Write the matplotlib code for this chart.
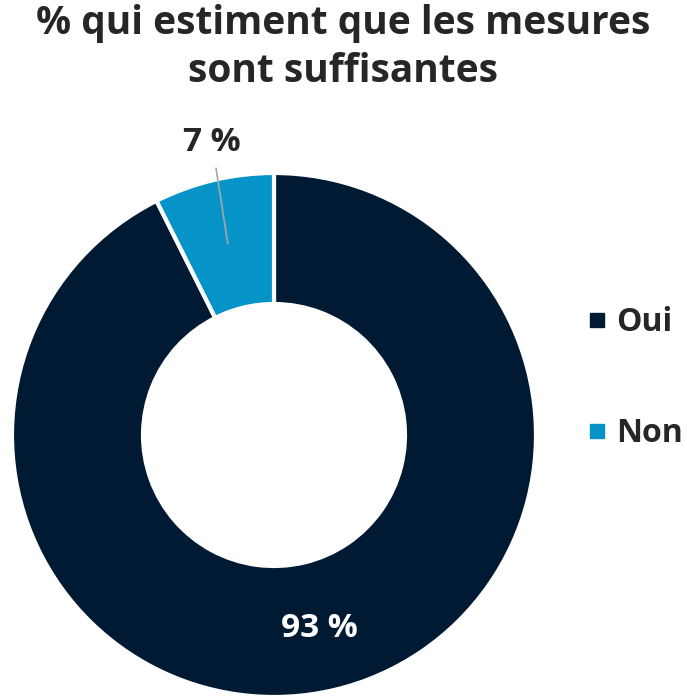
import matplotlib
matplotlib.use("Agg")
import matplotlib.pyplot as plt
from matplotlib.lines import Line2D

plt.rcParams["font.family"] = ["Open Sans", "DejaVu Sans"]

labels = ["Oui", "Non"]
values = [92.6, 7.4]
colors = ["#011A33", "#0593C8"]
title = "% qui estiment que les mesures\nsont suffisantes"
TXT = "#262626"

fig = plt.figure(figsize=(6.87, 6.96), dpi=100, facecolor="white")
W, H = 687, 696
cx, cy, r = 274, 435, 262
ax = fig.add_axes([(cx - r) / W, (H - cy - r) / H, 2 * r / W, 2 * r / H])
wedges, _ = ax.pie(values, colors=colors, startangle=90, counterclock=False,
                   radius=1, wedgeprops=dict(width=0.5, edgecolor="white", linewidth=3))
ax.set_xlim(-1, 1)
ax.set_ylim(-1, 1)
ax.set_aspect("equal")
ax.axis("off")

# value labels
ax.text(0.172, -0.737, f"{values[0]:.0f} %", color="white", fontsize=24,
        fontweight="bold", ha="center", va="center")
ax.annotate(f"{values[1]:.0f} %", xy=(-0.176, 0.729), xytext=(-0.237, 1.118),
            fontsize=24, fontweight="bold", color=TXT, ha="center", va="center",
            arrowprops=dict(arrowstyle="-", color="#A6A6A6", lw=1.2,
                            shrinkA=5, shrinkB=0))

fig.text(0.5, 0.994, title, ha="center", va="top", fontsize=28,
         fontweight="bold", color=TXT, linespacing=1.3)

handles = [Line2D([], [], marker="s", ls="", color=c, ms=10) for c in colors]
fig.legend(handles, labels, loc="center left", bbox_to_anchor=(586 / W, 0.457),
           frameon=False, labelcolor=TXT, handletextpad=0.25, handlelength=0.7,
           borderpad=0, borderaxespad=0, labelspacing=2.45,
           prop=dict(weight="bold", size=23))

fig.savefig("out.png", dpi=100, facecolor="white")
